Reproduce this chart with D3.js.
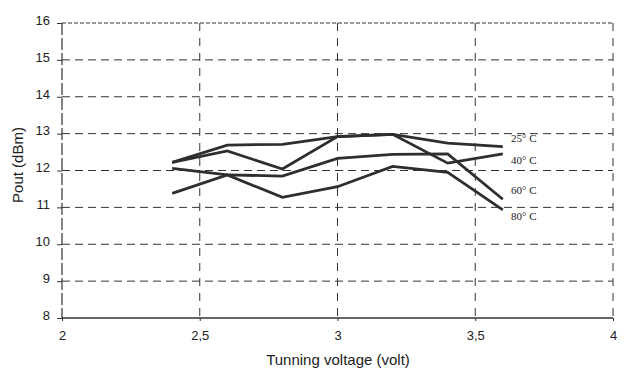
<!DOCTYPE html>
<html><head><meta charset="utf-8">
<script src="https://cdn.jsdelivr.net/npm/d3@7"></script>
<style>body{margin:0;background:#fff}svg{display:block}</style>
</head><body>
<script>
const voltages = [2.4, 2.6, 2.8, 3.0, 3.2, 3.4, 3.6];
const seriesNames = ["25° C", "40° C", "60° C", "80° C"];
const t25 = [12.22, 12.69, 12.71, 12.92, 12.98, 12.74, 12.65];
const t40 = [12.22, 12.53, 12.04, 12.92, 12.98, 12.20, 12.45];
const t60 = [11.38, 11.88, 11.85, 12.33, 12.44, 12.45, 11.22];
const t80 = [12.06, 11.88, 11.27, 11.56, 12.11, 11.95, 10.93];
const xTicks = [2, 2.5, 3, 3.5, 4];
const xTickLabels = ["2", "2,5", "3", "3,5", "4"];
const yTicks = [8, 9, 10, 11, 12, 13, 14, 15, 16];

const W = 624, H = 369;
const svg = d3.select("body").append("svg").attr("width", W).attr("height", H);
const x = d3.scaleLinear().domain([2, 4]).range([62, 613]);
const y = d3.scaleLinear().domain([8, 16]).range([318, 23]);
const ink = "#333";
const sans = "Liberation Sans, Arial, sans-serif";

// grid
const g = svg.append("g");
g.selectAll("line.h").data(yTicks.filter(v => v > 8)).join("line")
  .attr("x1", x(2)).attr("x2", x(4)).attr("y1", d => y(d)).attr("y2", d => y(d))
  .attr("stroke", ink).attr("stroke-width", 1).attr("stroke-dasharray", d => d === 16 ? "4,2" : "8,5");
g.selectAll("line.v").data(xTicks.filter(v => v > 2)).join("line")
  .attr("x1", d => x(d)).attr("x2", d => x(d)).attr("y1", y(16)).attr("y2", y(8))
  .attr("stroke", ink).attr("stroke-width", 1).attr("stroke-dasharray", "8,7");
// left axis
g.append("line").attr("x1", x(2)).attr("x2", x(2)).attr("y1", y(16)).attr("y2", y(8))
  .attr("stroke", ink).attr("stroke-width", 1.2).attr("stroke-dasharray", "12,3");
// bottom axis
g.append("line").attr("x1", x(2)).attr("x2", x(4)).attr("y1", y(8)).attr("y2", y(8))
  .attr("stroke", ink).attr("stroke-width", 1.5);

const yAxis = d3.axisLeft(y).tickValues(yTicks).tickSize(5).tickPadding(7).tickFormat(d3.format("d"));
const ya = svg.append("g").attr("transform", `translate(${x(2)},0)`).call(yAxis);
ya.select(".domain").remove();
ya.selectAll("line").attr("stroke", ink);
ya.selectAll("text").attr("font-family", sans).attr("font-size", 13).attr("fill", "#222").attr("dy", "0.1em");

const xAxis = d3.axisBottom(x).tickValues(xTicks).tickSize(3).tickPadding(10).tickFormat((d, i) => xTickLabels[i]);
const xa = svg.append("g").attr("transform", `translate(0,${y(8)})`).call(xAxis);
xa.select(".domain").remove();
xa.selectAll("line").attr("stroke", ink);
xa.selectAll("text").attr("font-family", sans).attr("font-size", 13).attr("fill", "#222");

svg.append("text").attr("x", 338).attr("y", 365).attr("text-anchor", "middle")
  .attr("font-family", sans).attr("font-size", 15).attr("fill", "#222")
  .text("Tunning voltage (volt)");
svg.append("text").attr("transform", "translate(23,165) rotate(-90)").attr("text-anchor", "middle")
  .attr("font-family", sans).attr("font-size", 15).attr("fill", "#222")
  .text("Pout (dBm)");

const series = [t25, t40, t60, t80];
const line = d3.line().x((d, i) => x(voltages[i])).y(d => y(d));
svg.append("g").selectAll("path").data(series).join("path")
  .attr("d", d => line(d)).attr("fill", "none").attr("stroke", "#2e2e2e")
  .attr("stroke-width", 2.8).attr("stroke-linejoin", "miter");

const labelY = [138, 160, 190, 216];
svg.append("g").selectAll("text").data(seriesNames).join("text")
  .attr("x", 511).attr("y", (d, i) => labelY[i] + 4)
  .attr("font-family", "Liberation Serif, Times New Roman, serif").attr("font-size", 11).attr("fill", "#222")
  .text(d => d);
</script>
</body></html>
